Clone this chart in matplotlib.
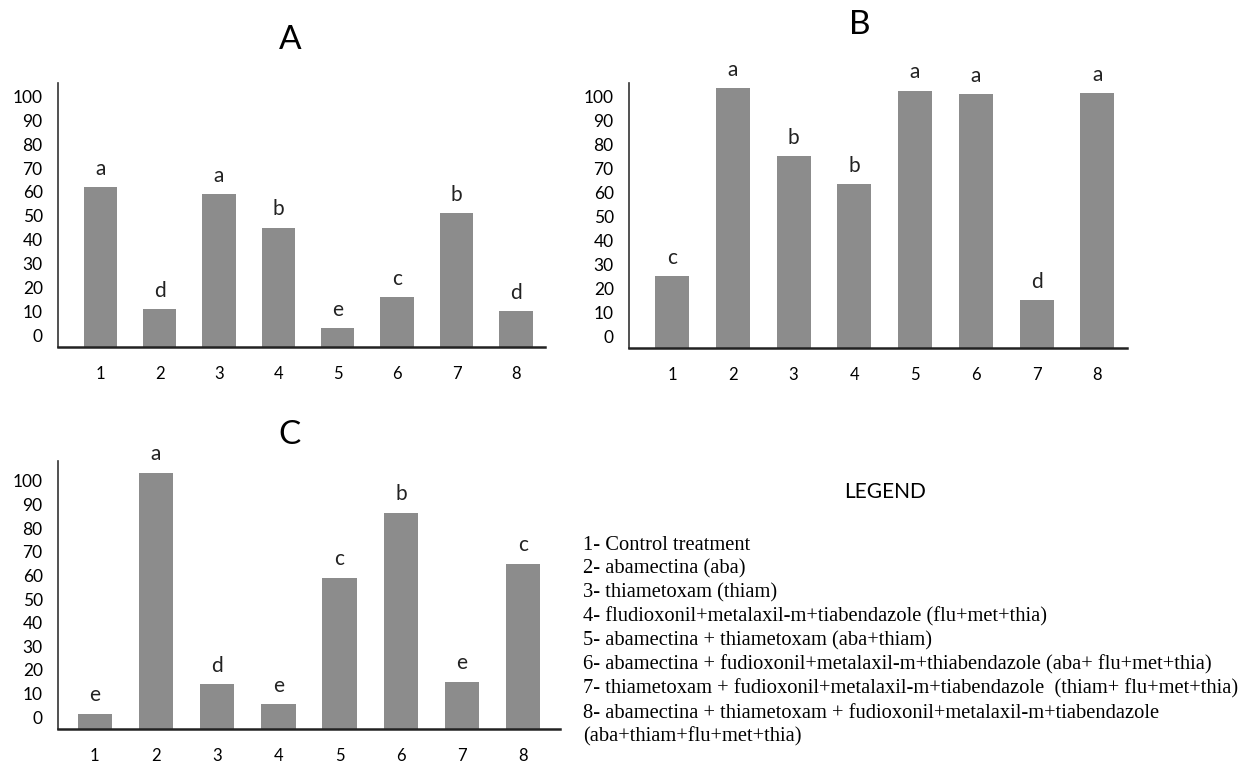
import matplotlib
matplotlib.use("Agg")
import matplotlib.pyplot as plt
import numpy as np

# treatment numbers on the x axis
treatments = ["1", "2", "3", "4", "5", "6", "7", "8"]

# panel A
a_values = [62, 11, 59, 45, 3, 16, 51, 10]
a_letters = ["a", "d", "a", "b", "e", "c", "b", "d"]

# panel B
b_values = [25, 103.5, 75, 63.5, 102.5, 101, 15, 101.5]
b_letters = ["c", "a", "b", "b", "a", "a", "d", "a"]

# panel C
c_values = [1.5, 103.5, 14, 5.5, 59, 86.5, 15, 65]
c_letters = ["e", "a", "d", "e", "c", "b", "e", "c"]

y_ticks = list(range(0, 101, 10))

legend_lines = [
    "1- Control treatment",
    "2- abamectina (aba)",
    "3- thiametoxam (thiam)",
    "4- fludioxonil+metalaxil-m+tiabendazole (flu+met+thia)",
    "5- abamectina + thiametoxam (aba+thiam)",
    "6- abamectina + fudioxonil+metalaxil-m+thiabendazole (aba+ flu+met+thia)",
    "7- thiametoxam + fudioxonil+metalaxil-m+tiabendazole  (thiam+ flu+met+thia)",
    "8- abamectina + thiametoxam + fudioxonil+metalaxil-m+tiabendazole",
    "(aba+thiam+flu+met+thia)",
]

BASE = -5  # the drawn baseline sits half a step under the "0" label
BAR_COLOR = "#8c8c8c"
SANS = ["Lato", "DejaVu Sans"]

W, H = 1243, 771
fig = plt.figure(figsize=(W / 100, H / 100), dpi=100)


def px_axes(left, top, right, bottom):
    return fig.add_axes([left / W, 1 - bottom / H, (right - left) / W, (bottom - top) / H])


def draw_panel(ax, values, letters, xlim, ytop, title, title_xy):
    x = np.arange(1, len(values) + 1)
    vals = np.array(values, dtype=float)
    ax.bar(x, vals - BASE, bottom=BASE, width=0.56, color=BAR_COLOR, zorder=2)
    for xi, v, lab in zip(x, vals, letters):
        ax.annotate(lab, (xi, v), xytext=(0, 6), textcoords="offset points",
                    ha="center", va="bottom", fontsize=15, family=SANS,
                    color="#222222", annotation_clip=False)
    ax.set_xlim(*xlim)
    ax.set_ylim(BASE, ytop)
    ax.set_xticks(x)
    ax.set_xticklabels(treatments, family=SANS, fontsize=12)
    ax.set_yticks(y_ticks)
    ax.set_yticklabels([str(t) for t in y_ticks], family=SANS, fontsize=12.5)
    ax.tick_params(axis="both", length=0)
    ax.tick_params(axis="y", pad=11)
    ax.tick_params(axis="x", pad=14)
    for s in ("top", "right"):
        ax.spines[s].set_visible(False)
    ax.spines["left"].set_color("#333333")
    ax.spines["left"].set_linewidth(1.2)
    ax.spines["bottom"].set_color("#222222")
    ax.spines["bottom"].set_linewidth(1.8)
    fig.text(title_xy[0] / W, 1 - title_xy[1] / H, title, ha="center", va="center",
             fontsize=24, family=SANS)


ax_a = px_axes(58, 83, 545, 347)
draw_panel(ax_a, a_values, a_letters, (0.29, 8.49), 105.7, "A", (290, 40))

ax_b = px_axes(629, 83, 1127, 348)
draw_panel(ax_b, b_values, b_letters, (0.29, 8.49), 105.7, "B", (860, 25))

ax_c = px_axes(58, 461, 560, 729)
draw_panel(ax_c, c_values, c_letters, (0.4, 8.6), 108.4, "C", (290, 435))

# legend block
fig.text(885 / W, 1 - 492 / H, "LEGEND", ha="center", va="center", fontsize=15, family=SANS)
for i, line in enumerate(legend_lines):
    fig.text(583 / W, 1 - (545 + 24 * i) / H, line, ha="left", va="center",
             fontsize=14.8, family=["Liberation Serif", "DejaVu Serif"])

fig.savefig("out.png", dpi=100)
